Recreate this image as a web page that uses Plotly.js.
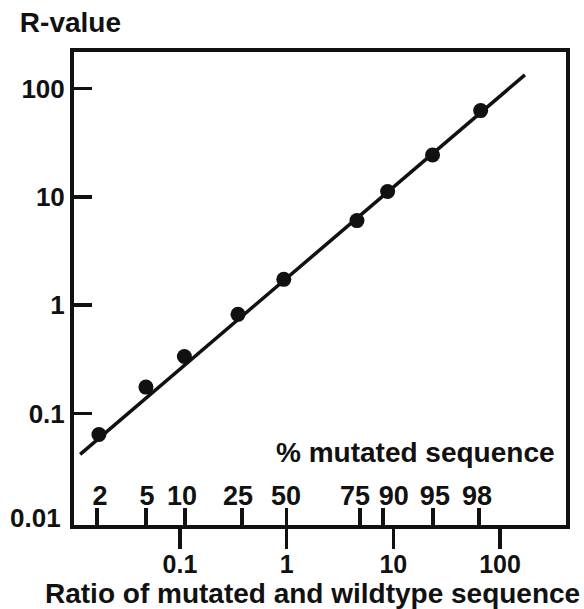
<!DOCTYPE html>
<html>
<head>
<meta charset="utf-8">
<script src="https://cdn.plot.ly/plotly-3.0.1.min.js"></script>
<style>html,body{margin:0;padding:0;background:#fff;}#chart{width:584px;height:609px;}</style>
</head>
<body>
<div id="chart"></div>
<script>
// ---- data ----
const ratioTickVals = [0.1, 1, 10, 100];
const ratioTickText = ['0.1', '1', '10', '100'];
const rTickVals = [0.01, 0.1, 1, 10, 100];
const rTickText = ['0.01', '0.1', '1', '10', '100'];
const pctLabels = ['2', '5', '10', '25', '50', '75', '90', '95', '98'];
const pctTickRatio = [0.0167, 0.048, 0.111, 0.381, 1.0, 4.86, 8.0, 23.5, 63.4];
const pctLabelRatio = [0.0178, 0.0491, 0.1045, 0.350, 0.985, 4.37, 10.1, 24.5, 60.7];
const pointRatio = [0.0174, 0.048, 0.110, 0.350, 0.94, 4.56, 8.84, 23.3, 65.8];
const pointR = [0.064, 0.175, 0.336, 0.822, 1.73, 6.03, 11.2, 24.3, 62.5];
const fitRatio = [0.0116, 171];
const fitR = [0.0419, 133.6];

const ink = '#111111';
const fam = 'Liberation Sans, Arial, Helvetica, sans-serif';
const tickFont = {family: fam, size: 26, color: ink, weight: 'bold'};
const xTickFont = {family: fam, size: 25, color: ink, weight: 'bold'};
const pctFont = {family: fam, size: 27, color: ink, weight: 'bold'};
const textFont = {family: fam, size: 28, color: ink, weight: 'bold'};

const xRange = [-1.993, 2.618];
const yRange = [-2.03, 2.337];

const traces = [
  {x: fitRatio, y: fitR, mode: 'lines', type: 'scatter',
   line: {color: ink, width: 3.5}, hoverinfo: 'skip', showlegend: false},
  {x: pointRatio, y: pointR, mode: 'markers', type: 'scatter',
   marker: {color: ink, size: 15, symbol: 'circle'}, showlegend: false},
  // carriers for the two overlaid "% mutated" axes (tick marks / tick labels)
  {x: pctTickRatio, y: pctTickRatio.map(() => null), xaxis: 'x2', type: 'scatter',
   mode: 'markers', hoverinfo: 'skip', showlegend: false},
  {x: pctLabelRatio, y: pctLabelRatio.map(() => null), xaxis: 'x3', type: 'scatter',
   mode: 'markers', hoverinfo: 'skip', showlegend: false}
];

// the lowest R tick label (0.01) sits on the x-axis line; Plotly drops it there,
// so it is placed through the y axis as an annotation at its tick value
const lowLabel = {text: rTickText[0], xref: 'paper', yref: 'y',
  x: (63 - 74) / 492, y: Math.log10(rTickVals[0]), xanchor: 'right', yanchor: 'middle',
  yshift: 4, showarrow: false, font: tickFont};

const layout = {
  width: 584, height: 609,
  margin: {l: 74, r: 18, t: 52, b: 84},
  paper_bgcolor: '#ffffff', plot_bgcolor: '#ffffff',
  showlegend: false,
  title: {text: 'R-value', font: textFont, x: 0.034, xanchor: 'left',
          y: 0.963, yanchor: 'middle', xref: 'container', yref: 'container'},
  xaxis: {type: 'log', range: xRange, tickmode: 'array',
          tickvals: ratioTickVals, ticktext: ratioTickText,
          ticks: 'outside', ticklen: 20, tickwidth: 3.5, tickcolor: ink,
          ticklabelstandoff: -6, tickangle: 0,
          showline: true, linewidth: 4, linecolor: ink, mirror: true,
          showgrid: false, zeroline: false, tickfont: xTickFont},
  xaxis2: {type: 'log', range: xRange, matches: 'x', overlaying: 'x', side: 'bottom',
           anchor: 'free', position: 0,
           tickmode: 'array', tickvals: pctTickRatio, ticktext: pctLabels,
           showticklabels: false,
           ticks: 'inside', ticklen: 17, tickwidth: 3.5, tickcolor: ink,
           showline: false, showgrid: false, zeroline: false},
  xaxis3: {type: 'log', range: xRange, matches: 'x', overlaying: 'x', side: 'bottom',
           anchor: 'free', position: 0,
           tickmode: 'array', tickvals: pctLabelRatio, ticktext: pctLabels,
           ticks: 'inside', ticklen: 17, tickwidth: 1, tickcolor: 'rgba(0,0,0,0)',
           ticklabelposition: 'inside', tickangle: 0,
           showline: false, showgrid: false, zeroline: false, tickfont: pctFont},
  yaxis: {type: 'log', range: yRange, tickmode: 'array',
          tickvals: rTickVals.slice(1), ticktext: rTickText.slice(1),
          ticks: 'inside', ticklen: 18, tickwidth: 3.5, tickcolor: ink,
          showline: true, linewidth: 4, linecolor: ink, mirror: true,
          showgrid: false, zeroline: false, tickfont: tickFont},
  annotations: [
    lowLabel,
    {text: '% mutated sequence', xref: 'paper', yref: 'paper',
     x: (557 - 74) / 492, y: (525 - 452) / 473, xanchor: 'right', yanchor: 'middle',
     showarrow: false, font: textFont},
    {text: 'Ratio of mutated and wildtype sequence', xref: 'paper', yref: 'paper',
     x: (312 - 74) / 492, y: (525 - 593) / 473, xanchor: 'center', yanchor: 'middle',
     showarrow: false, font: textFont}
  ]
};

Plotly.newPlot('chart', traces, layout, {staticPlot: true, displayModeBar: false});
</script>
</body>
</html>
